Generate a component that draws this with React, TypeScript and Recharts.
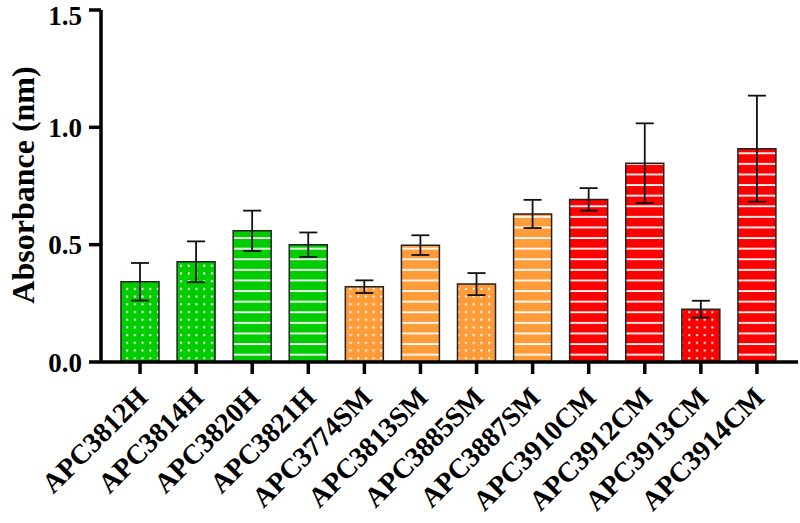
import React from 'react'
import { BarChart, Bar, XAxis, YAxis, Cell, ErrorBar, Label } from 'recharts'

// strains, mean absorbance and SD
const strains = [
  'APC3812H', 'APC3814H', 'APC3820H', 'APC3821H',
  'APC3774SM', 'APC3813SM', 'APC3885SM', 'APC3887SM',
  'APC3910CM', 'APC3912CM', 'APC3913CM', 'APC3914CM',
]
const absorbance = [0.342, 0.427, 0.559, 0.5, 0.321, 0.498, 0.332, 0.631, 0.693, 0.847, 0.225, 0.909]
const sd = [0.08, 0.087, 0.086, 0.052, 0.027, 0.042, 0.047, 0.06, 0.048, 0.17, 0.036, 0.226]
const yTicks = [0, 0.5, 1.0, 1.5]

// fill style of each bar
const groupColors: Record<string, string> = { H: '#00cc00', SM: '#ff9c3a', CM: '#ff0000' }
const barPattern = ['dots', 'dots', 'stripes', 'stripes', 'dots', 'stripes', 'dots', 'stripes', 'stripes', 'stripes', 'dots', 'stripes']

const groupOf = (name: string) => (name.endsWith('SM') ? 'SM' : name.endsWith('CM') ? 'CM' : 'H')

const data = strains.map((name, i) => ({
  name,
  value: absorbance[i],
  err: sd[i],
  fill: `url(#${barPattern[i]}-${groupOf(name)})`,
}))

const FONT = '"Liberation Serif", "Times New Roman", serif'

const XTick = ({ x, y, payload }: any) => (
  <g transform={`translate(${x + 9},${y + 23})`}>
    <text
      textAnchor="end"
      transform="rotate(-45)"
      fontFamily={FONT}
      fontWeight="bold"
      fontSize={28}
      fill="#000"
    >
      {payload.value}
    </text>
  </g>
)

export default function App() {
  return (
    <div style={{ position: 'absolute', left: 0, top: 0, background: '#fff' }}>
      <BarChart
        width={800}
        height={523}
        data={data}
        margin={{ top: 10, right: 2, left: 0, bottom: 0 }}
        barSize={38}
      >
        <defs>
          {Object.entries(groupColors).map(([key, color]) => (
            <React.Fragment key={key}>
              <pattern id={`stripes-${key}`} patternUnits="userSpaceOnUse" width="10" height="10.6">
                <rect width="10" height="10.6" fill={color} />
                <rect y="4" width="10" height="1.8" fill="#fff" />
              </pattern>
              <pattern id={`dots-${key}`} patternUnits="userSpaceOnUse" width="7.7" height="7.7">
                <rect width="7.7" height="7.7" fill={color} />
                <rect x="3" y="3" width="2" height="2" fill="#fff" />
              </pattern>
            </React.Fragment>
          ))}
        </defs>
        <XAxis
          dataKey="name"
          interval={0}
          height={161}
          padding={{ left: 11, right: 13 }}
          axisLine={{ stroke: '#000', strokeWidth: 3.5 }}
          tickLine={{ stroke: '#000', strokeWidth: 3.5 }}
          tickSize={12}
          tick={<XTick />}
        />
        <YAxis
          width={101}
          domain={[0, 1.5]}
          ticks={yTicks}
          tickFormatter={(v: number) => v.toFixed(1)}
          axisLine={{ stroke: '#000', strokeWidth: 3.5 }}
          tickLine={{ stroke: '#000', strokeWidth: 3.5 }}
          tickSize={12}
          tickMargin={7}
          tick={{ fontFamily: FONT, fontWeight: 'bold', fontSize: 27, fill: '#000' }}
        >
          <Label
            content={() => (
              <text
                x={34}
                y={185}
                transform="rotate(-90 34 185)"
                textAnchor="middle"
                fontFamily={FONT}
                fontWeight="bold"
                fontSize={32}
                fill="#000"
              >
                Absorbance (nm)
              </text>
            )}
          />
        </YAxis>
        <Bar dataKey="value" stroke="#222" strokeWidth={1.5} isAnimationActive={false}>
          {data.map((d) => (
            <Cell key={d.name} fill={d.fill} />
          ))}
          <ErrorBar dataKey="err" width={9} stroke="#111" strokeWidth={1.8} direction="y" />
        </Bar>
      </BarChart>
    </div>
  )
}
